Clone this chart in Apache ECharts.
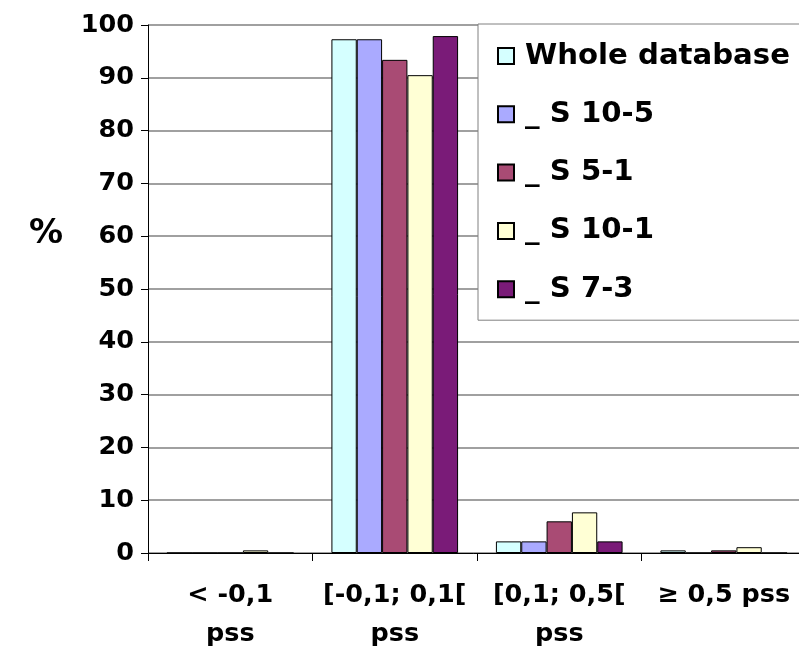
<!DOCTYPE html>
<html>
<head>
<meta charset="utf-8">
<script src="https://cdn.jsdelivr.net/npm/echarts@6/dist/echarts.min.js"></script>
<style>html,body{margin:0;padding:0;background:#fff}#c{width:799px;height:650px}</style>
</head>
<body>
<div id="c"></div>
<script>
const categories = ['< -0,1\npss', '[-0,1; 0,1[\npss', '[0,1; 0,5[\npss', '≥ 0,5 pss'];
const seriesNames = ['Whole database', '_ S 10-5', '_ S 5-1', '_ S 10-1', '_ S 7-3'];
const wholeDatabase = [0, 97.3, 2.2, 0.5];
const s10_5 = [0, 97.3, 2.2, 0];
const s5_1 = [0, 93.4, 6.0, 0.5];
const s10_1 = [0.5, 90.5, 7.7, 1.1];
const s7_3 = [0, 97.9, 2.2, 0];
const yTicks = [0, 10, 20, 30, 40, 50, 60, 70, 80, 90, 100];
const colors = ['#D5FFFF', '#AAAAFF', '#A94B74', '#FFFFD5', '#7A1B78'];

const FONT = 'DejaVu Sans';
const allData = [wholeDatabase, s10_5, s5_1, s10_1, s7_3];

const chart = echarts.init(document.getElementById('c'), null, {renderer: 'canvas'});
chart.setOption({
  animation: false,
  backgroundColor: '#ffffff',
  title: {
    text: '%', left: 24, top: 212,
    textStyle: {fontFamily: FONT, fontWeight: 'bold', fontSize: 34, color: '#000'}
  },
  grid: {left: 148, right: -7, top: 25, bottom: 97, containLabel: false, outerBoundsMode: 'none'},
  legend: {
    orient: 'vertical', left: 478, top: 24,
    padding: [17, 24, 16, 19],
    itemWidth: 16, itemHeight: 16, itemGap: 28.3,
    backgroundColor: '#fff',
    borderColor: '#808080', borderWidth: 1,
    textStyle: {fontFamily: FONT, fontWeight: 'bold', fontSize: 29.2, color: '#000', lineHeight: 30, padding: [0, 0, 0, 6]},
    data: seriesNames.map(n => ({name: n, icon: 'rect'}))
  },
  xAxis: {
    type: 'category', data: categories,
    axisLine: {lineStyle: {color: '#000', width: 1}},
    axisTick: {show: true, length: 8, lineStyle: {color: '#000'}},
    axisLabel: {fontFamily: FONT, fontWeight: 'bold', fontSize: 25.5, color: '#000', margin: 23, lineHeight: 39, interval: 0},
    splitLine: {show: false}
  },
  yAxis: {
    type: 'value', min: 0, max: 100, interval: 10,
    axisLine: {show: true, lineStyle: {color: '#000', width: 1}},
    axisTick: {show: true, length: 7, lineStyle: {color: '#000'}},
    axisLabel: {fontFamily: FONT, fontWeight: 'bold', fontSize: 25.5, color: '#000', margin: 14,
      formatter: v => yTicks.includes(v) ? String(v) : ''},
    splitLine: {show: true, lineStyle: {color: '#808080', width: 1.5}}
  },
  series: seriesNames.map((n, i) => ({
    name: n, type: 'bar', data: allData[i],
    barGap: '0%', barCategoryGap: '23%',
    itemStyle: {color: colors[i], borderColor: '#000', borderWidth: 1}
  }))
});
</script>
</body>
</html>
